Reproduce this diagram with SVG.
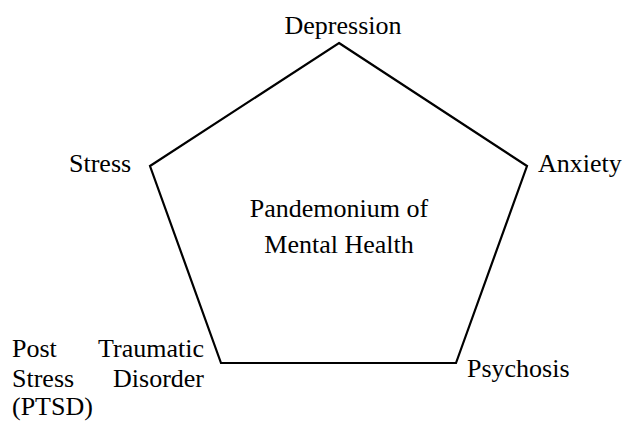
<svg xmlns="http://www.w3.org/2000/svg" width="622" height="421" viewBox="0 0 622 421" font-family="'Liberation Serif', 'Times New Roman', 'DejaVu Serif', serif">
<style>
text{font-family:'Liberation Serif','Times New Roman','DejaVu Serif',serif;font-size:26px;fill:#000}
.shape{fill:none;stroke:#000;stroke-width:2.2;stroke-linejoin:miter}
.m{text-anchor:middle}
.e{text-anchor:end}
</style>
<rect width="622" height="421" fill="#fff"/>
<g id="connectors">
<polygon class="shape" points="339,43 527,166 456,363 221,363 150,166"/>
</g>
<g id="center"><text class="m" x="339" y="217">Pandemonium of</text><text class="m" x="339" y="253">Mental Health</text></g>
<g id="depression"><text class="m" x="343" y="34">Depression</text></g>
<g id="anxiety"><text x="538" y="172">Anxiety</text></g>
<g id="psychosis"><text x="467" y="377">Psychosis</text></g>
<g id="stress"><text x="69" y="172">Stress</text></g>
<g id="ptsd"><text x="12" y="357">Post</text><text class="e" x="204" y="357">Traumatic</text><text x="12" y="387">Stress</text><text class="e" x="204" y="387">Disorder</text><text x="12" y="415">(PTSD)</text></g>
</svg>
